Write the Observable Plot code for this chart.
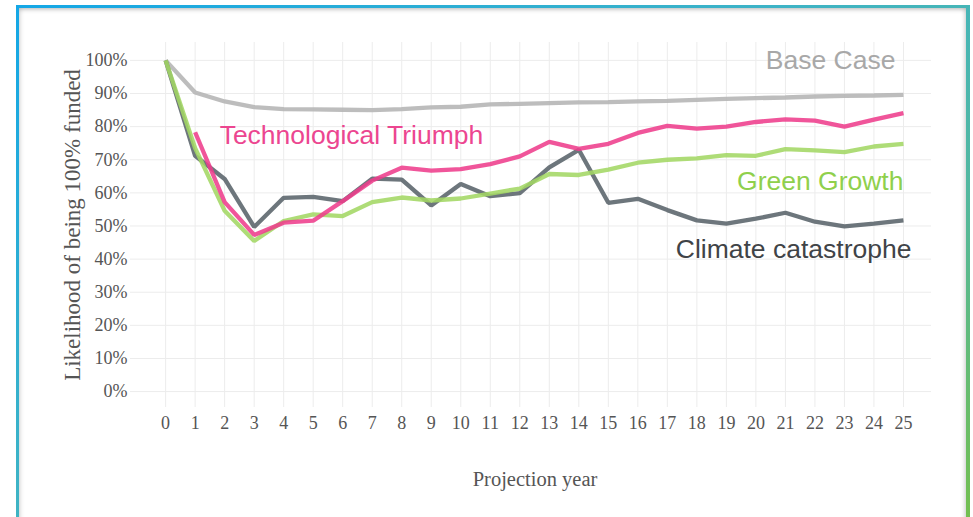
<!DOCTYPE html>
<html>
<head>
<meta charset="utf-8">
<script src="https://cdn.jsdelivr.net/npm/d3@7"></script>
<script src="https://cdn.jsdelivr.net/npm/@observablehq/plot@0.6"></script>
<style>
  html, body { margin: 0; padding: 0; background: #fff; overflow: hidden; }
  body { width: 973px; height: 517px; position: relative; }
  #frame {
    position: absolute; left: 16px; top: 5px; width: 947px; height: 600px;
    border-style: solid; border-color: transparent;
    border-width: 3px 4px 3px 3px;
    border-image: linear-gradient(to bottom right, #14a7e6 0%, #3db3c6 40%, #52b8a0 65%, #7cc13a 100%) 1;
    box-shadow: inset 0 3px 4px -1px rgba(0,0,0,0.18), inset -3px 0 4px -1px rgba(0,0,0,0.12), inset 3px 0 4px -1px rgba(0,0,0,0.10);
    background: #fff;
  }
  #chart { position: absolute; left: 0; top: 0; }
</style>
</head>
<body>
<div id="frame"></div>
<div id="chart"></div>
<script>
// ---- data ----
const years = d3.range(0, 26);
const baseCase = [1.000, 0.903, 0.876, 0.859, 0.853, 0.852, 0.851, 0.850, 0.853, 0.858, 0.860, 0.867, 0.869, 0.871, 0.873, 0.874, 0.876, 0.878, 0.881, 0.884, 0.886, 0.888, 0.891, 0.893, 0.894, 0.896];
const techTriumph = [null, 0.783, 0.572, 0.473, 0.510, 0.516, 0.575, 0.637, 0.676, 0.667, 0.672, 0.687, 0.710, 0.754, 0.733, 0.748, 0.781, 0.802, 0.794, 0.800, 0.814, 0.822, 0.818, 0.800, 0.821, 0.841];
const greenGrowth = [1.000, 0.735, 0.546, 0.455, 0.515, 0.535, 0.530, 0.572, 0.586, 0.577, 0.583, 0.598, 0.613, 0.657, 0.654, 0.670, 0.691, 0.700, 0.704, 0.714, 0.712, 0.732, 0.728, 0.723, 0.740, 0.748];
const climateCatastrophe = [1.000, 0.712, 0.642, 0.497, 0.585, 0.588, 0.575, 0.643, 0.640, 0.562, 0.627, 0.590, 0.599, 0.677, 0.730, 0.570, 0.582, 0.548, 0.517, 0.507, 0.522, 0.540, 0.513, 0.499, 0.507, 0.517];
const seriesNames = ["Base Case", "Climate catastrophe", "Green Growth", "Technological Triumph"];
const yTicks = d3.range(0, 11).map(d => d / 10);
const xTitle = "Projection year";
const yTitle = "Likelihood of being 100% funded";
// label anchor points (data coordinates)
const labelNames = ["Base Case", "Technological Triumph", "Green Growth", "Climate catastrophe"];
const labelX = [24.73, 1.83, 25.0, 25.27];
const labelY = [0.973, 0.749, 0.610, 0.402];

// ---- build tables ----
const seriesValues = {
  "Base Case": baseCase,
  "Climate catastrophe": climateCatastrophe,
  "Green Growth": greenGrowth,
  "Technological Triumph": techTriumph
};
const rows = seriesNames.flatMap(name =>
  years.map((yr, i) => ({series: name, year: yr, value: seriesValues[name][i]}))
    .filter(d => d.value != null)
);
const labels = labelNames.map((name, i) => ({name, x: labelX[i], y: labelY[i]}));

const lineColors = {
  "Base Case": "#b4b4b4",
  "Climate catastrophe": "#59636a",
  "Green Growth": "#a3d764",
  "Technological Triumph": "#ee3d8c"
};
const textColors = {
  "Base Case": "#a8a8a8",
  "Climate catastrophe": "#3f4347",
  "Green Growth": "#8fd04c",
  "Technological Triumph": "#ec4690"
};
const anchors = {
  "Base Case": "end",
  "Climate catastrophe": "end",
  "Green Growth": "end",
  "Technological Triumph": "start"
};

const chart = Plot.plot({
  width: 973,
  height: 517,
  marginLeft: 130,
  marginRight: 42,
  marginTop: 42,
  marginBottom: 110,
  style: {background: "transparent", fontFamily: "'Liberation Serif', serif", fontSize: "18px", color: "#555"},
  x: {domain: [-1.19, 25.95]},
  y: {domain: [-0.048, 1.054]},
  marks: [
    Plot.ruleX(years, {stroke: "#ececec", strokeWidth: 1}),
    Plot.ruleY(yTicks, {stroke: "#ececec", strokeWidth: 1}),
    Plot.axisX({ticks: years, tickSize: 0, tickPadding: 9, tickFormat: d => String(d), label: null, fill: "#555", fontSize: 18}),
    Plot.axisY({ticks: yTicks, tickSize: 0, tickPadding: 3, tickFormat: d3.format(".0%"), label: null, fill: "#555", fontSize: 18}),
    ...seriesNames.map(name =>
      Plot.line(rows.filter(d => d.series === name), {
        x: "year", y: "value",
        stroke: lineColors[name], strokeWidth: 4.3, strokeOpacity: 0.88,
        strokeLinejoin: "miter", strokeLinecap: "butt"
      })
    ),
    ...labels.map(l =>
      Plot.text([l], {
        x: "x", y: "y", text: "name",
        textAnchor: anchors[l.name], lineAnchor: "bottom",
        fill: textColors[l.name], fontSize: 26.5,
        fontFamily: "'Liberation Sans', Arial, sans-serif"
      })
    ),
    Plot.text([xTitle], {frameAnchor: "bottom", dx: 4, dy: 78, lineAnchor: "bottom", fontSize: 20.5, fill: "#555"}),
    Plot.text([yTitle], {frameAnchor: "left", rotate: -90, dx: -58, dy: 0, lineAnchor: "middle", textAnchor: "middle", fontSize: 23, fill: "#555"})
  ]
});
document.getElementById("chart").appendChild(chart);
</script>
</body>
</html>
